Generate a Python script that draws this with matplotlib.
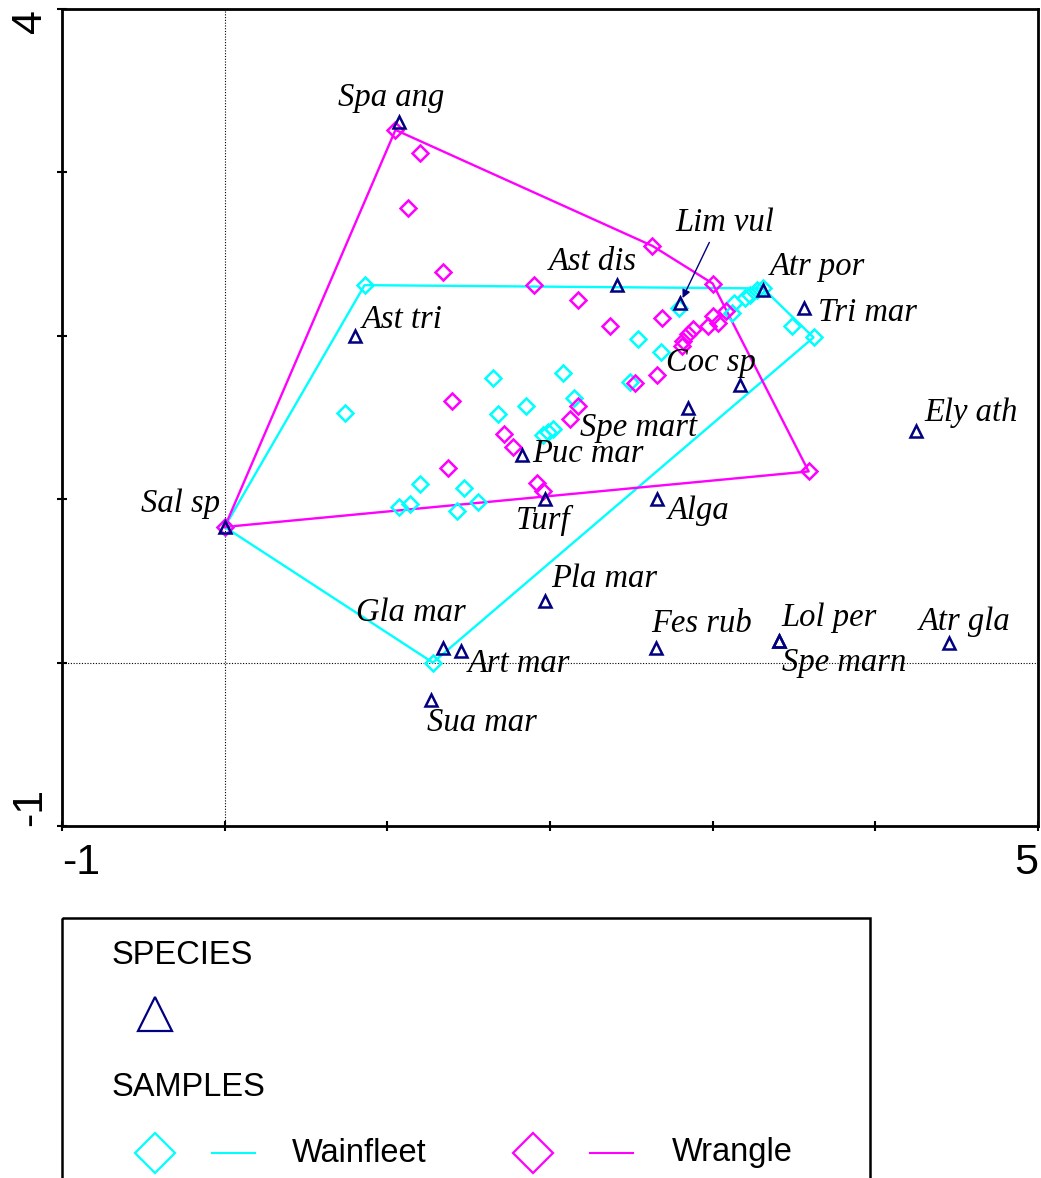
import matplotlib
matplotlib.use("Agg")
import matplotlib.pyplot as plt
from matplotlib.patches import Rectangle

# ---------------- data ----------------
species_names = ['Spa ang', 'Ast tri', 'Ast dis', 'Lim vul', 'Atr por', 'Tri mar',
                 'Coc sp', 'Spe mart', 'Ely ath', 'Puc mar', 'Turf', 'Alga',
                 'Sal sp', 'Pla mar', 'Fes rub', 'Lol per', 'Spe marn', 'Atr gla',
                 'Gla mar', 'Art mar', 'Sua mar']
species_x = [1.07, 0.80, 2.41, 2.80, 3.31, 3.56, 3.17, 2.85, 4.25, 1.83, 1.97, 2.66,
             0.00, 1.97, 2.65, 3.41, 3.41, 4.45, 1.34, 1.45, 1.27]
species_y = [3.31, 2.00, 2.31, 2.20, 2.28, 2.17, 1.70, 1.56, 1.42, 1.27, 1.00, 1.00,
             0.83, 0.38, 0.09, 0.13, 0.13, 0.12, 0.09, 0.07, -0.23]

wainfleet_x = [0.86, 0.00, 1.28, 3.62, 3.49, 3.31, 3.27, 3.23, 3.20, 3.13, 3.12, 2.79,
               2.54, 2.68, 2.49, 2.08, 2.15, 1.65, 1.85, 1.68, 1.96, 1.99, 2.02, 0.74,
               1.20, 1.47, 1.07, 1.14, 1.43, 1.56]
wainfleet_y = [2.31, 0.83, 0.00, 1.99, 2.06, 2.29, 2.28, 2.25, 2.23, 2.20, 2.14, 2.17,
               1.98, 1.90, 1.72, 1.77, 1.62, 1.74, 1.57, 1.52, 1.39, 1.41, 1.43, 1.53,
               1.09, 1.07, 0.95, 0.97, 0.93, 0.98]

wrangle_x = [1.05, 1.20, 1.13, 1.34, 2.63, 3.00, 1.90, 2.17, 2.37, 2.69, 3.08, 3.00,
             3.03, 2.97, 2.88, 2.85, 2.82, 2.81, 2.66, 2.52, 2.17, 2.12, 1.40, 1.72,
             1.77, 1.37, 1.92, 1.96, 3.59, 0.00]
wrangle_y = [3.26, 3.12, 2.78, 2.39, 2.55, 2.32, 2.31, 2.22, 2.06, 2.11, 2.15, 2.12,
             2.08, 2.06, 2.04, 2.01, 1.97, 1.94, 1.76, 1.71, 1.57, 1.49, 1.60, 1.40,
             1.32, 1.19, 1.10, 1.05, 1.17, 0.83]

x_ticks = [-1, 0, 1, 2, 3, 4, 5]
x_tick_labels = ['-1', '', '', '', '', '', '5']
y_ticks = [-1, 0, 1, 2, 3, 4]
y_tick_labels = ['-1', '', '', '', '', '4']

group_names = ['Wainfleet', 'Wrangle']

# ---------------- style ----------------
NAVY = '#000080'
CYAN = '#00FFFF'
MAGENTA = '#FF00FF'

# label offsets (pixels) relative to the species point
label_offsets = {
    'Spa ang': (-61, 24), 'Ast tri': (7, 16), 'Ast dis': (-68, 23),
    'Lim vul': (-5, 80), 'Atr por': (7, 23), 'Tri mar': (14, -5),
    'Coc sp': (-74, 22), 'Spe mart': (-108, -20), 'Ely ath': (8, 18),
    'Puc mar': (10, 1), 'Turf': (-29, -21), 'Alga': (10, -12),
    'Sal sp': (-84, 23), 'Pla mar': (6, 22), 'Fes rub': (-5, 24),
    'Lol per': (2, 24), 'Spe marn': (3, -21), 'Atr gla': (-30, 21),
    'Gla mar': (-87, 35), 'Art mar': (7, -13), 'Sua mar': (-4, -23),
}


def convex_hull(xs, ys):
    pts = sorted(set(zip(xs, ys)))
    if len(pts) <= 2:
        return pts

    def cross(o, a, b):
        return (a[0] - o[0]) * (b[1] - o[1]) - (a[1] - o[1]) * (b[0] - o[0])

    lower = []
    for p in pts:
        while len(lower) >= 2 and cross(lower[-2], lower[-1], p) <= 0:
            lower.pop()
        lower.append(p)
    upper = []
    for p in reversed(pts):
        while len(upper) >= 2 and cross(upper[-2], upper[-1], p) <= 0:
            upper.pop()
        upper.append(p)
    return lower[:-1] + upper[:-1]


W, H = 1041, 1178
fig = plt.figure(figsize=(W / 100, H / 100), dpi=100)
ax = fig.add_axes([62 / W, 1 - 826 / H, (1038 - 62) / W, (826 - 9) / H])

ax.set_xlim(-1, 5)
ax.set_ylim(-1, 4)

# origin dotted lines
ax.axvline(0, color='black', lw=0.8, ls=(0, (1, 1.5)), zorder=1)
ax.axhline(0, color='black', lw=0.8, ls=(0, (1, 1.5)), zorder=1)

# envelopes
for xs, ys, col in [(wainfleet_x, wainfleet_y, CYAN), (wrangle_x, wrangle_y, MAGENTA)]:
    hull = convex_hull(xs, ys)
    hx = [p[0] for p in hull] + [hull[0][0]]
    hy = [p[1] for p in hull] + [hull[0][1]]
    ax.plot(hx, hy, color=col, lw=1.7, zorder=2)

# samples
ax.plot(wainfleet_x, wainfleet_y, ls='none', marker='D', ms=8, mfc='none',
        mec=CYAN, mew=1.8, zorder=3)
ax.plot(wrangle_x, wrangle_y, ls='none', marker='D', ms=8, mfc='none',
        mec=MAGENTA, mew=1.8, zorder=4)

# species
ax.plot(species_x, species_y, ls='none', marker='^', ms=9, mfc='none',
        mec=NAVY, mew=1.8, zorder=5)

label_font = dict(family=['Liberation Serif', 'DejaVu Serif'], style='italic',
                  size=23.5, color='black')
for name, sx, sy in zip(species_names, species_x, species_y):
    dx, dy = label_offsets[name]
    if name == 'Lim vul':
        ax.annotate(name, xy=(sx, sy), xytext=(dx, dy), textcoords='offset pixels',
                    ha='left', va='center', zorder=6,
                    arrowprops=dict(arrowstyle='-|>', color=NAVY, lw=1.0,
                                    mutation_scale=12, shrinkA=1, shrinkB=4,
                                    relpos=(0.38, 0.1)),
                    **label_font)
    else:
        ax.annotate(name, xy=(sx, sy), xytext=(dx, dy), textcoords='offset pixels',
                    ha='left', va='center', zorder=6, **label_font)

# axes styling
for sp in ax.spines.values():
    sp.set_linewidth(2.0)
ax.set_xticks(x_ticks)
ax.set_xticklabels(x_tick_labels, family=['Liberation Sans', 'DejaVu Sans'], size=31)
ax.set_yticks(y_ticks)
ax.set_yticklabels(y_tick_labels, family=['Liberation Sans', 'DejaVu Sans'], size=31,
                   rotation=90)
ax.tick_params(axis='both', direction='inout', length=7, width=1.5)
ax.tick_params(axis='x', pad=9)
ax.tick_params(axis='y', pad=5)
xl = ax.get_xticklabels()
xl[0].set_ha('left')
xl[-1].set_ha('right')
yl = ax.get_yticklabels()
yl[0].set_va('bottom')
yl[-1].set_va('top')

# ---------------- legend box ----------------
lax = fig.add_axes([0, 0, 1, (H - 880) / H])
lax.set_xlim(0, W)
lax.set_ylim(H, 880)
lax.axis('off')
lax.add_patch(Rectangle((62, 918), 870 - 62, 400, fill=False, lw=1.8,
                        edgecolor='black', clip_on=False))
leg_font = dict(family=['Liberation Sans', 'DejaVu Sans'], size=23.5, color='black',
                va='center', ha='left')
lax.text(112, 955, 'SPECIES', **leg_font)
lax.plot([155], [1014], marker='^', ms=25, mfc='none', mec=NAVY, mew=1.6,
         ls='none', clip_on=False)
lax.text(112, 1087, 'SAMPLES', **leg_font)
for cx, col, lx, tx, name in [(155, CYAN, 212, 292, group_names[0]),
                              (533, MAGENTA, 590, 672, group_names[1])]:
    lax.plot([cx], [1153], marker='D', ms=20, mfc='none', mec=col, mew=1.6,
             ls='none', clip_on=False)
    lax.plot([lx, lx + 43], [1153, 1153], color=col, lw=1.5, clip_on=False)
    lax.text(tx, 1153, name, **leg_font)

fig.savefig('out.png', dpi=100)
